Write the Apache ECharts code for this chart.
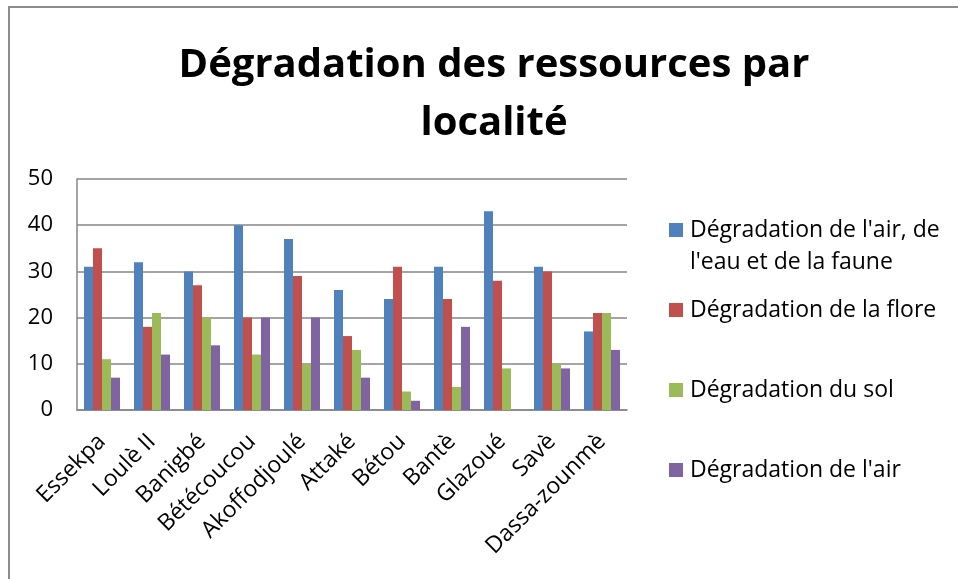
<!DOCTYPE html>
<html>
<head>
<meta charset="utf-8">
<script src="https://cdn.jsdelivr.net/npm/echarts@6/dist/echarts.min.js"></script>
<style>
  html, body { margin: 0; padding: 0; background: #fff; }
  #chart { width: 958px; height: 579px; }
</style>
</head>
<body>
<div id="chart"></div>
<script>
var localites = ['Essekpa', 'Loulè II', 'Banigbé', 'Bétécoucou', 'Akoffodjoulé', 'Attaké', 'Bétou', 'Bantè', 'Glazoué', 'Savè', 'Dassa-zounmè'];
var serieNames = ["Dégradation de l'air, de l'eau et de la faune", 'Dégradation de la flore', 'Dégradation du sol', "Dégradation de l'air"];
var airEauFaune = [31, 32, 30, 40, 37, 26, 24, 31, 43, 31, 17];
var flore = [35, 18, 27, 20, 29, 16, 31, 24, 28, 30, 21];
var sol = [11, 21, 20, 12, 10, 13, 4, 5, 9, 10, 21];
var air = [7, 12, 14, 20, 20, 7, 2, 18, 0, 9, 13];

(function () {
  'use strict';

  var colors = ['#4F81BD', '#C0504D', '#9BBB59', '#8064A2'];
  var values = [airEauFaune, flore, sol, air];
  var font = '"Open Sans", sans-serif';
  var legendTops = [182, 294, 374, 454];

  var chart = echarts.init(document.getElementById('chart'));

  var series = [];
  var legends = [];
  for (var i = 0; i < serieNames.length; i++) {
    series.push({
      name: serieNames[i],
      type: 'bar',
      data: values[i],
      barGap: '0%',
      barCategoryGap: '28%',
      itemStyle: { color: colors[i] }
    });
    legends.push({
      data: [serieNames[i]],
      left: 669,
      top: legendTops[i],
      padding: 0,
      orient: 'vertical',
      icon: 'rect',
      itemWidth: 14,
      itemHeight: 14,
      itemGap: 0,
      selectedMode: false,
      formatter: function (name) {
        // le premier nom tient sur deux lignes, aligné sur le carré
        if (name === serieNames[0]) {
          return "\nDégradation de l'air, de\nl'eau et de la faune";
        }
        return name;
      },
      textStyle: {
        fontFamily: font,
        fontSize: 23,
        lineHeight: 32,
        color: '#000',
        padding: [0, 0, 0, 2]
      }
    });
  }

  var option = {
    animation: false,
    color: colors,
    title: {
      text: 'Dégradation des ressources par\nlocalité',
      left: 489,
      top: 32,
      textAlign: 'center',
      textStyle: {
        fontFamily: font,
        fontSize: 40,
        fontWeight: 'bold',
        lineHeight: 58,
        color: '#000'
      }
    },
    legend: legends,
    grid: {
      left: 77,
      right: 331,
      top: 179,
      bottom: 169
    },
    xAxis: {
      type: 'category',
      data: localites,
      axisLine: { lineStyle: { color: '#868686', width: 1.5 } },
      axisTick: { show: false },
      axisLabel: {
        interval: 0,
        rotate: 45,
        margin: 28,
        fontFamily: font,
        fontSize: 23,
        color: '#000'
      }
    },
    yAxis: {
      type: 'value',
      min: 0,
      max: 50,
      interval: 10,
      axisLine: { show: true, lineStyle: { color: '#868686', width: 1.5 } },
      axisTick: { show: false },
      splitLine: { lineStyle: { color: '#868686', width: 1.5 } },
      axisLabel: {
        margin: 24,
        fontFamily: font,
        fontSize: 22,
        color: '#000'
      }
    },
    graphic: [{
      type: 'rect',
      silent: true,
      shape: { x: 9, y: 7, width: 1200, height: 1200 },
      style: { fill: 'none', stroke: '#8c8c8c', lineWidth: 2 }
    }],
    series: series
  };

  chart.setOption(option);
})();
</script>
</body>
</html>
